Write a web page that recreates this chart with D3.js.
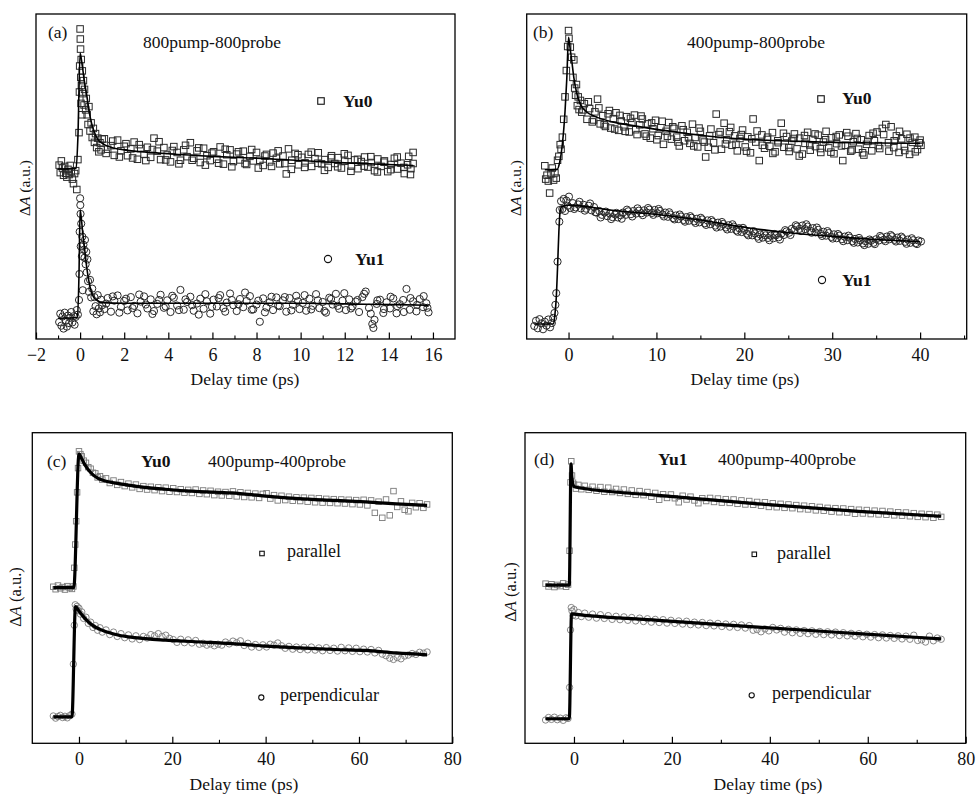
<!DOCTYPE html>
<html>
<head>
<meta charset="utf-8">
<script src="https://cdn.jsdelivr.net/npm/d3@7"></script>
<style>
  body { margin: 0; background: #fff; }
</style>
</head>
<body>
<svg width="976" height="795"></svg>
<script>
// ---- data (y in arbitrary units 0..100 of each frame) ----
// (a) 800pump-800probe
const aYu0 = [[-0.95,53.5],[-0.9,51.2],[-0.85,54.8],[-0.8,52.6],[-0.75,50.4],[-0.7,53.1],[-0.65,51.0],[-0.6,49.8],[-0.55,52.2],[-0.5,50.6],[-0.45,53.4],[-0.4,51.5],[-0.35,49.2],[-0.3,47.8],[-0.25,50.9],[-0.2,51.8],[-0.15,46.0],[-0.1,55.2],[-0.05,63.5],
  [0,95.4],[0.01,92.3],[0.02,89.2],[-0.02,84],[0.03,80.5],[-0.03,76],[0.04,72.5],[0.05,86],[0.06,78],[0.08,69],[0.1,82.5],[0.12,75.5],[0.15,79.5],[0.18,72],[0.2,76.8],[0.25,70.5],[0.28,74],[0.32,69],[0.36,66],[0.4,71.5],[0.45,64],[0.5,66.5],[0.55,62],[0.6,64.8],[0.65,60.5],[0.7,63.2],[0.75,58.9],[0.8,61.8],[0.85,57.6],[0.9,60.4],[0.95,58.2],[1.0,61.5],
  [1.1,61.6],[1.25,58.4],[1.4,59.5],[1.55,56.5],[1.7,61.2],[1.85,57.9],[2.0,59.3],[2.15,56.4],[2.3,58.5],[2.45,60.6],[2.6,55.3],[2.75,58.6],[2.9,56.8],[3.05,59.0],[3.2,55.9],[3.35,61.8],[3.5,57.8],[3.65,55.2],[3.8,58.9],[3.95,56.6],
  [4.1,54.5],[4.25,59.2],[4.4,57.4],[4.55,55.0],[4.7,58.2],[4.85,56.1],[5.0,60.4],[5.15,55.6],[5.3,57.9],[5.45,54.3],[5.6,58.7],[5.75,56.4],[5.9,54.9],[6.05,57.6],[6.2,55.3],[6.35,59.1],[6.5,53.8],[6.65,56.7],[6.8,58.2],[6.95,54.6],
  [7.1,56.9],[7.25,55.1],[7.4,57.8],[7.55,53.7],[7.7,56.2],[7.85,54.8],[8.0,57.4],[8.15,55.0],[8.3,53.4],[8.45,56.8],[8.6,54.5],[8.75,57.2],[8.9,55.6],[9.05,53.9],[9.2,56.3],[9.35,50.8],[9.45,58.5],[9.6,55.0],[9.75,57.1],[9.9,53.6],
  [10.05,55.9],[10.2,54.2],[10.35,56.8],[10.5,53.1],[10.65,55.5],[10.8,57.3],[10.95,53.9],[11.1,55.2],[11.25,52.8],[11.4,56.4],[11.55,54.0],[11.7,55.8],[11.85,52.6],[12.0,54.7],[12.15,56.5],[12.3,53.2],[12.45,55.1],[12.6,52.4],[12.75,54.6],[12.9,56.0],
  [13.05,52.9],[13.2,54.3],[13.35,51.8],[13.5,55.4],[13.65,53.1],[13.8,54.8],[13.95,51.5],[14.1,53.7],[14.25,55.6],[14.4,52.3],[14.55,54.1],[14.7,50.9],[14.85,53.6],[14.9,56.2],[15.0,52.4],[15.1,57.4],[15.1,54.0]];
const aYu0b = [[1.18,57.1],[1.48,60.9],[1.78,56.0],[2.08,60.1],[2.38,55.7],[2.68,59.8],[2.98,54.9],[3.28,58.3],[3.58,60.7],[3.88,55.1],[4.18,58.0],[4.48,53.9],[4.78,59.6],[5.08,55.0],[5.38,58.8],[5.68,53.5],[5.98,57.2],[6.28,54.1],[6.58,58.4],[6.88,53.0],
  [7.18,57.6],[7.48,54.0],[7.78,58.3],[8.08,52.6],[8.38,56.3],[8.68,53.1],[8.98,57.9],[9.28,54.0],[9.58,52.2],[9.88,56.7],[10.18,52.8],[10.48,57.5],[10.78,54.1],[11.08,51.9],[11.38,55.8],[11.68,53.0],[11.98,57.0],[12.28,51.6],[12.58,55.3],[12.88,53.2],
  [13.18,56.1],[13.48,51.4],[13.78,54.4],[14.08,52.1],[14.38,56.0],[14.68,52.8],[14.98,50.6]];
const aYu1 = [[-0.95,5.2],[-0.9,7.8],[-0.85,4.1],[-0.8,6.9],[-0.75,3.2],[-0.7,8.1],[-0.65,5.6],[-0.6,3.8],[-0.55,7.2],[-0.5,4.9],[-0.45,6.5],[-0.4,8.3],[-0.35,5.1],[-0.3,7.0],[-0.25,4.4],[-0.2,6.8],[-0.15,8.9],[-0.1,7.5],[-0.05,12.0],
  [0,43.3],[0.01,41.2],[0.02,38.5],[-0.02,33.0],[0.03,28.5],[-0.03,20.0],[0.05,35.5],[0.08,25.5],[0.1,31.5],[0.12,15.0],[0.15,29.0],[0.18,27.5],[0.2,25.0],[0.22,30.5],[0.25,23.0],[0.28,26.8],[0.3,20.5],[0.33,24.5],[0.36,17.8],[0.4,14.5],[0.45,18.2],[0.5,12.8],[0.55,15.5],[0.6,8.5],[0.65,12.9],[0.7,10.1],[0.75,7.6],[0.8,13.5],[0.85,9.4],[0.9,8.2],[0.95,12.1],[1.0,10.4],
  [1.1,9.2],[1.25,12.6],[1.4,8.4],[1.55,11.8],[1.7,13.4],[1.85,9.9],[2.0,11.7],[2.15,8.8],[2.3,12.9],[2.45,10.2],[2.6,7.9],[2.75,11.5],[2.9,13.1],[3.05,9.4],[3.2,12.2],[3.35,8.6],[3.5,10.8],[3.65,13.6],[3.8,9.6],[3.95,11.9],
  [4.1,8.3],[4.25,12.7],[4.4,10.3],[4.55,15.1],[4.7,9.0],[4.85,11.4],[5.0,13.0],[5.15,8.7],[5.3,10.9],[5.45,12.4],[5.6,9.3],[5.75,11.6],[5.9,7.8],[6.05,12.1],[6.2,10.0],[6.35,13.5],[6.5,9.5],[6.65,11.2],[6.8,14.0],[6.95,10.4],
  [7.1,8.6],[7.25,12.3],[7.4,9.8],[7.55,11.7],[7.7,13.2],[7.85,9.1],[8.0,10.6],[8.15,5.3],[8.3,12.5],[8.45,9.7],[8.6,11.3],[8.75,8.9],[8.9,12.8],[9.05,10.1],[9.2,11.9],[9.35,8.4],[9.5,12.6],[9.65,10.5],[9.8,13.3],[9.95,9.2],
  [10.1,11.1],[10.25,8.7],[10.4,12.4],[10.55,10.2],[10.7,13.8],[10.85,9.5],[11.0,11.4],[11.15,8.1],[11.3,12.7],[11.45,10.6],[11.6,13.9],[11.75,9.3],[11.9,11.8],[12.05,8.9],[12.2,12.2],[12.35,10.0],[12.5,11.5],[12.65,8.3],[12.8,12.9],[12.95,14.6],
  [13.1,9.6],[13.25,4.6],[13.3,3.4],[13.35,5.9],[13.45,10.8],[13.6,12.1],[13.75,8.0],[13.9,11.3],[14.05,9.4],[14.2,12.5],[14.35,7.9],[14.5,10.7],[14.65,12.0],[14.8,15.4],[14.95,9.0],[15.1,11.6],[15.25,8.5],[15.4,12.3],[15.55,9.8],[15.7,11.0],[15.8,8.2]];
const aYu1b = [[1.18,10.9],[1.48,13.1],[1.78,8.1],[2.08,12.4],[2.38,9.5],[2.68,13.7],[2.98,10.6],[3.28,7.7],[3.58,12.0],[3.88,10.0],[4.18,13.3],[4.48,8.9],[4.78,12.2],[5.08,10.4],[5.38,7.5],[5.68,13.8],[5.98,9.9],[6.28,12.6],[6.58,8.4],[6.88,12.0],
  [7.18,10.7],[7.48,14.3],[7.78,9.0],[8.08,11.8],[8.38,8.2],[8.68,13.0],[8.98,10.3],[9.28,12.9],[9.58,8.8],[9.88,11.6],[10.18,13.5],[10.48,9.1],[10.78,11.9],[11.08,8.6],[11.38,12.3],[11.68,10.2],[11.98,14.1],[12.28,9.4],[12.58,12.0],[12.88,13.9],
  [13.18,7.8],[13.48,11.9],[13.78,9.2],[14.08,13.0],[14.38,10.1],[14.68,8.3],[14.98,12.6],[15.28,10.5],[15.58,13.2],[15.75,9.6]];
const aFit0 = [[-1,52.3],[-0.18,52.5],[-0.1,62],[0,88],[0.1,84],[0.2,79],[0.3,75],[0.45,68.5],[0.6,64.5],[0.8,61.5],[1.1,59.8],[1.5,58.8],[2,58.2],[3,57.5],[4,57],[6,56.2],[8,55.6],[10,54.9],[12,54.2],[15.1,53.4]];
const aFit1 = [[-1,6.4],[-0.12,6.6],[-0.05,20],[0,39.7],[0.05,37.5],[0.1,34],[0.2,28],[0.3,22],[0.45,16],[0.6,13],[0.75,12],[1,11.2],[2,11],[6,11],[10,11],[13,10.7],[15.8,10.4]];

// (b) 400pump-800probe
const bYu0 = [[-2.7,53.3],[-2.6,49.2],[-2.45,50.4],[-2.3,48.6],[-2.15,44.9],[-2.0,50.8],[-1.85,52.6],[-1.7,48.9],[-1.55,51.1],[-1.4,49.5],[-1.25,55.0],
  [-1.1,56.2],[-0.95,59.8],[-0.85,58.4],[-0.7,62.1],[-0.55,67.6],[-0.4,74.5],[-0.25,82.6],[-0.1,90.0],[0,94.9],[0.05,92.5],
  [0.2,89.8],[0.35,86.7],[0.5,80.5],[0.6,85.9],[0.7,77.2],[0.8,75.0],[0.9,78.3],[1.0,71.8],[1.1,74.5],[1.2,70.6],[1.35,73.4],
  [1.5,69.8],[1.8,72.4],[2.1,67.6],[2.4,70.9],[2.7,66.8],[3.0,69.9],[3.3,73.8],[3.6,66.2],[3.9,68.7],[4.2,65.4],[4.5,69.3],[4.8,64.9],[5.1,67.8],[5.4,69.6],[5.7,64.2],[6.0,67.1],[6.3,65.3],[6.6,68.4],[6.9,63.7],[7.2,66.5],
  [7.5,68.9],[7.8,62.9],[8.1,65.9],[8.4,67.7],[8.7,63.1],[9.0,66.2],[9.3,61.8],[9.6,64.7],[9.9,67.3],[10.2,62.6],[10.5,65.0],[10.8,59.9],[11.1,63.9],[11.4,66.6],[11.7,61.5],[12.0,64.8],[12.3,62.1],[12.6,59.4],[12.9,65.6],[13.2,61.0],
  [13.5,63.6],[13.8,60.2],[14.1,66.1],[14.4,62.0],[14.7,59.1],[15.0,63.9],[15.3,61.2],[15.6,56.0],[15.9,59.0],[16.2,64.6],[16.5,60.4],[16.8,69.2],[17.1,62.9],[17.4,58.4],[17.7,66.4],[18.0,61.3],[18.3,63.8],[18.6,59.6],[18.9,62.5],[19.2,57.9],
  [19.5,61.7],[19.8,64.3],[20.1,59.1],[20.4,62.2],[20.7,57.3],[21.0,67.7],[21.3,60.6],[21.7,54.9],[22.0,62.8],[22.3,58.7],[22.6,61.4],[22.9,59.3],[23.2,63.5],[23.5,57.6],[23.8,61.0],[24.2,66.4],[24.5,59.0],[24.8,62.3],[25.1,57.7],[25.4,60.9],
  [25.7,63.1],[26.0,58.5],[26.3,61.8],[26.6,56.9],[26.9,60.2],[27.2,63.6],[27.5,58.1],[27.8,61.4],[28.1,59.2],[28.4,62.7],[28.7,57.4],[29.0,60.6],[29.3,63.9],[29.6,58.8],[29.9,61.9],[30.2,57.0],[30.5,60.1],[30.8,62.8],[31.2,54.9],[31.5,59.6],
  [31.8,62.4],[32.1,57.8],[32.4,60.7],[32.7,63.2],[33.0,58.4],[33.3,61.3],[33.6,56.6],[33.9,59.9],[34.2,62.6],[34.5,57.9],[34.8,61.0],[35.1,63.7],[35.4,58.6],[35.7,64.8],[36.1,66.0],[36.4,60.4],[36.7,65.3],[37.0,58.9],[37.3,62.5],[37.6,57.4],
  [37.9,61.6],[38.2,59.2],[38.5,63.0],[38.8,56.8],[39.1,60.5],[39.4,62.1],[39.7,58.3],[40.0,61.2],[40.1,59.6]];
const bYu0b = [[1.65,70.5],[2.25,73.0],[2.85,67.4],[3.45,71.1],[4.05,65.9],[4.65,70.3],[5.25,64.6],[5.85,68.8],[6.45,63.9],[7.05,67.9],[7.65,64.4],[8.25,68.6],[8.85,62.4],[9.45,66.5],[10.05,61.3],[10.65,67.0],[11.25,62.4],[11.85,65.3],[12.45,60.6],[13.05,64.4],
  [13.65,61.9],[14.25,59.4],[14.85,64.9],[15.45,60.6],[16.05,62.5],[16.65,58.2],[17.25,63.7],[17.85,60.0],[18.45,65.1],[19.05,59.9],[19.65,62.9],[20.25,57.8],[20.85,61.6],[21.45,64.0],[22.05,59.6],[22.65,62.1],[23.25,57.1],[23.85,60.4],[24.45,63.3],[25.05,58.9],
  [25.65,61.7],[26.25,56.3],[26.85,62.6],[27.45,59.7],[28.05,63.1],[28.65,58.6],[29.25,61.3],[29.85,57.5],[30.45,62.3],[31.05,59.4],[31.65,63.5],[32.25,58.2],[32.85,61.7],[33.45,57.3],[34.05,60.8],[34.65,63.3],[35.25,59.5],[35.85,62.9],[36.45,57.8],[37.05,61.0],
  [37.65,63.9],[38.25,58.0],[38.85,61.8],[39.45,57.6],[39.9,60.4]];
const bYu1 = [[-3.9,4.0],[-3.7,5.6],[-3.5,3.3],[-3.3,6.1],[-3.1,4.8],[-2.9,3.0],[-2.7,5.3],[-2.5,4.1],[-2.3,6.0],[-2.1,3.6],[-1.9,4.9],[-1.75,6.5],
  [-1.6,8.0],[-1.5,10.5],[-1.4,14.1],[-1.25,23.8],[-1.05,36.1],[-1.0,39.7],[-0.85,42.4],[-0.7,40.0],[-0.55,43.1],[-0.4,39.4],[-0.25,42.6],[-0.1,41.0],[0.05,43.8],[0.2,40.3],
  [0.5,41.8],[0.8,40.5],[1.1,41.4],[1.4,40.2],[1.7,41.3],[2.0,40.1],[2.3,41.0],[2.6,39.6],[2.9,40.6],[3.2,38.9],[3.5,39.4],[3.8,38.2],[4.1,38.9],[4.4,37.8],[4.7,38.6],[5.0,37.5],[5.3,38.3],[5.6,37.4],[5.9,38.1],[6.2,38.9],
  [6.5,38.2],[6.8,39.3],[7.1,38.4],[7.4,39.4],[7.7,38.6],[8.0,39.5],[8.3,38.7],[8.6,39.6],[8.9,38.9],[9.2,39.8],[9.5,38.8],[9.8,39.7],[10.1,38.7],[10.4,39.4],[10.7,38.3],[11.0,38.9],[11.3,37.6],[11.6,38.3],[11.9,37.2],[12.2,38.0],
  [12.5,36.9],[12.8,37.7],[13.1,36.6],[13.4,37.5],[13.7,36.4],[14.0,37.3],[14.3,36.2],[14.6,37.0],[14.9,35.9],[15.2,36.8],[15.5,35.6],[15.8,36.5],[16.1,35.3],[16.4,36.1],[16.7,34.9],[17.0,35.8],[17.3,34.6],[17.6,35.4],[17.9,34.3],[18.2,35.0],
  [18.5,33.9],[18.8,34.6],[19.1,33.4],[19.4,34.1],[19.7,32.9],[20.0,33.6],[20.3,32.4],[20.6,33.0],[20.9,31.9],[21.2,32.5],[21.5,31.5],[21.8,32.2],[22.1,31.2],[22.4,31.9],[22.7,31.1],[23.0,31.8],[23.3,31.0],[23.6,31.9],[23.9,31.3],[24.2,32.4],
  [24.5,32.0],[24.8,33.1],[25.1,32.7],[25.4,33.9],[25.7,33.5],[26.0,34.6],[26.3,33.9],[26.6,34.9],[26.9,33.8],[27.2,34.6],[27.5,33.3],[27.8,34.1],[28.1,32.8],[28.4,33.6],[28.7,32.3],[29.0,33.0],[29.3,31.8],[29.6,32.6],[29.9,31.4],[30.2,32.2],
  [30.5,31.0],[30.8,31.8],[31.1,30.7],[31.4,31.5],[31.7,30.4],[32.0,31.2],[32.3,30.1],[32.6,30.8],[32.9,29.7],[33.2,30.4],[33.5,29.4],[33.8,30.1],[34.1,29.3],[34.4,30.2],[34.7,29.6],[35.0,30.7],[35.3,30.3],[35.6,31.3],[35.9,30.6],[36.2,31.5],
  [36.5,30.7],[36.8,31.6],[37.1,30.5],[37.4,31.2],[37.7,30.2],[38.0,31.0],[38.3,29.9],[38.6,30.6],[38.9,29.6],[39.2,30.4],[39.5,29.5],[39.8,30.3],[40.1,30.0]];
const bYu1b = [[0.65,40.0],[1.25,42.2],[1.85,39.5],[2.45,41.7],[3.05,39.0],[3.65,37.4],[4.25,39.2],[4.85,36.9],[5.45,38.8],[6.05,37.0],[6.65,39.8],[7.25,37.7],[7.85,40.2],[8.45,38.1],[9.05,40.3],[9.65,38.2],[10.25,40.0],[10.85,37.7],[11.45,39.0],[12.05,36.8],
  [12.65,38.3],[13.25,36.1],[13.85,37.8],[14.45,35.7],[15.05,37.3],[15.65,35.1],[16.25,36.6],[16.85,34.3],[17.45,36.0],[18.05,33.7],[18.65,35.3],[19.25,33.0],[19.85,34.2],[20.45,31.9],[21.05,33.2],[21.65,30.8],[22.25,32.5],[22.85,30.4],[23.45,32.3],[24.05,30.6],
  [24.65,33.5],[25.25,32.0],[25.85,35.0],[26.45,33.2],[27.05,35.3],[27.65,32.7],[28.25,34.3],[28.85,31.7],[29.45,33.2],[30.05,30.9],[30.65,32.3],[31.25,30.1],[31.85,31.8],[32.45,29.6],[33.05,31.1],[33.65,28.9],[34.25,30.6],[34.85,29.2],[35.45,31.7],[36.05,30.1],
  [36.65,32.0],[37.25,30.0],[37.85,31.5],[38.45,29.3],[39.05,31.0],[39.65,29.2]];
const bFit0 = [[-2.7,52.1],[-1.3,52.2],[-1.0,54.5],[-0.7,60],[-0.4,70],[-0.2,80],[0,92.8],[0.15,90],[0.35,86],[0.6,80.5],[0.9,76],[1.3,72.5],[2,70],[3,68.5],[5,66.8],[7,65.8],[10,64.5],[13,63.4],[16,62.4],[20,61.5],[25,60.9],[30,60.5],[35,60.3],[40,60.2]];
const bFit1 = [[-3.9,4.6],[-1.7,4.7],[-1.55,7.5],[-1.4,12.5],[-1.25,22],[-1.1,33],[-0.95,39.5],[-0.8,40.7],[0,41.2],[5,39.6],[10,38.3],[15,36.6],[20,34.4],[25,32.7],[30,31.6],[35,30.6],[40,29.9]];

// (c) Yu0 400pump-400probe
const tC = [-5.5,-5,-4.5,-4,-3.5,-3,-2.5,-2,-1.5,-1.2,
  -1,-0.8,-0.6,-0.4,-0.2,0,0.3,0.6,1,1.5,
  2,2.5,3,3.5,4,4.5,5,5.8,6.6,7.4,
  8.2,9,9.8,10.6,11.4,12.2,13,13.8,14.6,15.4,
  16.2,17,17.8,18.6,19.4,20.2,21,21.8,22.6,23.4,
  24.2,25,25.8,26.6,27.4,28.2,29,29.8,30.6,31.4,
  32.2,33,33.8,34.6,35.4,36.2,37,37.8,38.6,39.4,
  40.2,41,41.8,42.6,43.4,44.2,45,45.8,46.6,47.4,
  48.2,49,49.8,50.6,51.4,52.2,53,53.8,54.6,55.4,
  56.2,57,57.8,58.6,59.4,60.2,61,61.8,62.6,63.4,
  64.2,65,65.8,66.6,67.4,68.2,69,69.8,70.6,71.4,
  72.2,73,73.8,74.6];
const cPar = [50.4,49.6,50.8,49.9,50.3,49.5,50.6,50.0,49.7,50.5,
  56.5,64.0,71.5,80.8,88.6,94.0,93.1,92.4,91.0,90.3,
  88.9,88.4,87.1,86.9,85.6,86.0,84.9,85.3,83.8,84.6,
  83.2,84.1,82.8,83.6,82.4,83.3,81.9,82.8,81.7,82.6,
  81.5,82.4,81.2,82.3,81.0,82.1,80.9,81.8,80.7,81.6,
  80.6,81.7,80.3,81.4,80.2,81.3,79.9,81.0,79.8,80.9,
  79.7,81.1,79.5,80.8,79.3,80.6,79.2,80.4,79.0,80.3,
  80.5,78.8,79.9,78.2,79.7,78.3,79.4,78.1,79.2,78.0,
  79.1,77.8,79.0,77.6,78.9,77.5,78.7,77.4,78.6,77.3,
  78.5,77.2,78.4,77.0,78.3,76.9,78.4,76.6,78.2,74.2,
  77.8,72.6,78.5,73.4,81.2,76.1,77.9,75.2,74.7,77.4,
  76.0,77.3,75.8,76.9];
const cPerp = [8.8,8.1,8.6,9.0,8.3,8.7,8.2,8.9,9.4,25.5,
  38.0,44.6,43.2,44.1,42.7,43.5,41.6,42.3,40.2,40.6,
  38.6,39.0,37.3,37.9,36.4,37.2,35.8,36.5,35.0,35.8,
  34.4,35.3,34.0,34.9,33.6,34.6,33.4,34.4,33.9,35.0,
  34.6,35.3,34.4,34.8,33.8,33.4,32.5,33.5,32.4,33.3,
  32.3,33.1,31.9,32.2,31.6,32.0,31.4,31.9,31.6,32.6,
  32.0,32.9,32.4,33.0,31.5,32.2,31.0,31.8,30.9,31.7,
  31.0,31.9,31.6,32.3,31.4,30.6,31.2,30.3,31.0,30.2,
  30.9,30.1,31.0,30.0,30.7,29.8,30.8,29.9,30.6,29.7,
  30.9,29.8,30.7,29.6,30.6,29.5,30.3,29.4,30.2,29.1,
  29.9,28.7,28.2,27.4,27.0,27.6,27.2,28.1,28.4,28.9,
  28.6,29.3,29.0,29.4];
const cFitPar = [[-5.5,50.1],[-1.1,50.1],[0,93.2],[0.6,91.6],[1.35,89.5],[2.5,87.2],[4.2,85.2],[6,84.3],[8.5,83.6],[12,82.8],[18.5,81.8],[25,81.1],[32.8,80.6],[40,79.6],[47.1,78.8],[55,78.2],[61.4,77.7],[68,77.1],[74.6,76.6]];
const cFitPerp = [[-5.5,8.5],[-1.5,8.5],[-0.75,44],[0,42.6],[1,40.7],[2,39.1],[3,37.9],[4.2,36.9],[6,35.8],[8.5,34.8],[12,34.0],[18.5,33.2],[25,32.7],[32.8,32.1],[40,31.3],[47.1,30.7],[55,30.2],[61.4,29.9],[68,29.1],[74.6,28.5]];

// (d) Yu1 400pump-400probe
const tD = [-5.8,-5.2,-4.6,-4,-3.4,-2.8,-2.2,-1.6,-1.2,-0.9,
  -0.7,-0.55,-0.4,-0.2,0,0.4,0.9,1.5,2.2,3,
  3.8,4.6,5.4,6.2,7,7.8,8.6,9.4,10.2,11,
  11.8,12.6,13.4,14.2,15,15.8,16.6,17.4,18.2,19,
  19.8,20.6,21.4,22.2,23,23.8,24.6,25.4,26.2,27,
  27.8,28.6,29.4,30.2,31,31.8,32.6,33.4,34.2,35,
  35.8,36.6,37.4,38.2,39,39.8,40.6,41.4,42.2,43,
  43.8,44.6,45.4,46.2,47,47.8,48.6,49.4,50.2,51,
  51.8,52.6,53.4,54.2,55,55.8,56.6,57.4,58.2,59,
  59.8,60.6,61.4,62.2,63,63.8,64.6,65.4,66.2,67,
  67.8,68.6,69.4,70.2,71,71.8,72.6,73.4,74.2,75];
const dPar = [51.4,50.5,51.2,50.3,51.0,50.6,51.5,50.4,51.1,62.0,
  84.0,90.8,86.2,83.9,83.3,82.0,83.2,81.8,82.9,81.6,
  82.6,81.3,82.5,81.0,82.3,80.9,81.9,80.6,81.7,80.3,
  81.4,80.0,81.2,79.9,80.9,79.4,80.6,78.4,80.2,79.0,
  80.1,78.9,77.6,79.7,78.5,79.4,78.2,77.3,78.9,78.0,
  79.0,77.7,78.8,77.5,78.6,77.4,78.5,77.1,78.2,76.9,
  78.0,76.8,77.7,76.5,77.6,76.1,77.3,76.0,77.1,75.8,
  76.9,75.7,76.7,75.4,76.5,75.3,76.3,75.0,76.1,74.9,
  75.8,74.6,75.7,74.4,75.6,74.3,75.4,73.9,75.2,74.0,
  75.1,73.8,74.9,73.7,74.8,73.6,74.6,73.4,74.4,73.3,
  74.3,73.1,74.1,72.9,73.9,72.8,73.8,72.6,73.6,72.9];
const dPerp = [7.5,8.3,7.7,8.4,7.6,8.1,7.4,8.2,8.0,18.0,
  36.5,43.7,42.6,41.2,43.1,41.0,42.1,40.8,41.9,40.6,
  41.6,40.3,41.4,40.2,41.1,39.9,40.9,39.8,40.7,39.6,
  40.5,39.4,40.3,39.2,40.1,39.0,39.9,38.9,39.8,38.7,
  39.6,38.6,39.4,38.4,39.3,38.2,39.0,38.1,38.9,37.9,
  38.7,37.8,38.6,37.6,38.4,37.4,38.3,37.3,38.1,37.1,
  37.9,36.4,36.6,35.9,36.8,36.2,37.3,36.5,37.0,35.8,
  36.7,35.6,36.5,35.4,36.3,35.3,36.2,35.1,36.0,35.0,
  35.9,34.9,35.8,34.7,35.6,34.6,35.4,34.5,35.3,34.3,
  35.1,34.2,35.0,34.0,34.9,33.9,34.7,33.8,34.6,33.6,
  34.5,33.5,34.8,33.1,33.3,32.6,34.5,33.0,33.9,33.5];
const dFitPar = [[-5.8,50.9],[-0.95,50.9],[-0.6,90],[-0.45,86],[-0.15,83.1],[0.2,82.5],[17.2,79.8],[37.6,77.1],[58.1,74.7],[75,73.1]];
const dFitPerp = [[-5.8,7.9],[-0.95,7.9],[-0.5,41.7],[0,41.6],[17.2,39.6],[37.6,37.4],[58.1,35.3],[75,33.6]];

// tick values
const ticksA = [-2,0,2,4,6,8,10,12,14,16], minorA = [-1,1,3,5,7,9,11,13,15,17];
const ticksB = [0,10,20,30,40], minorB = [5,15,25,35,45];
const ticksCD = [0,20,40,60,80], minorCD = [10,30,50,70];

// ---- layout ----
const svg = d3.select('svg');
svg.append('rect').attr('width', 976).attr('height', 795).attr('fill', '#fff');
const FONT = '"Liberation Serif", "Times New Roman", Tinos, serif';

const panels = [
  { left: 36, right: 455, top: 14, bottom: 339, xdom: [-2, 17], ticks: ticksA, minor: minorA,
    ylab: [30, 188, 15.5], xlab: [245, 385],
    series: [{ data: aYu0.concat(aYu0b), shape: 'sq', size: 6.5, color: '#2a2a2a', sw: 1 }, { data: aYu1.concat(aYu1b), shape: 'ci', size: 3.6, color: '#2a2a2a', sw: 1 }],
    fits: [aFit0, aFit1], fitW: 1.6,
    texts: [['(a)', 48, 38, 'normal'], ['800pump-800probe', 143, 48, 'normal'], ['Yu0', 343, 107, 'bold'], ['Yu1', 355, 265, 'bold']],
    legend: [['sq', 321, 101, 6.5], ['ci', 328, 259, 3.6]] },
  { left: 526.7, right: 966.7, top: 14, bottom: 339, xdom: [-4.76, 45.3], ticks: ticksB, minor: minorB,
    ylab: [521, 188, 15.5], xlab: [745, 385],
    series: [{ data: bYu0.concat(bYu0b), shape: 'sq', size: 6.5, color: '#2a2a2a', sw: 1 }, { data: bYu1.concat(bYu1b), shape: 'ci', size: 3.6, color: '#2a2a2a', sw: 1 }],
    fits: [bFit0, bFit1], fitW: 1.6,
    texts: [['(b)', 533, 38, 'normal'], ['400pump-800probe', 687, 48, 'normal'], ['Yu0', 842, 104, 'bold'], ['Yu1', 842, 286, 'bold']],
    legend: [['sq', 821, 99, 6.5], ['ci', 822, 280, 3.6]] },
  { left: 32.3, right: 452.3, top: 432.7, bottom: 743.3, xdom: [-10, 80], ticks: ticksCD, minor: minorCD,
    ylab: [21, 597, 16.5], xlab: [244, 790],
    series: [{ data: d3.zip(tC, cPar), shape: 'sq', size: 5.5, color: '#7a7a7a', sw: 0.9 }, { data: d3.zip(tC, cPerp), shape: 'ci', size: 3.2, color: '#7a7a7a', sw: 0.9 }],
    fits: [cFitPar, cFitPerp], fitW: 3.2,
    texts: [['(c)', 47, 467, 'normal'], ['Yu0', 141, 467, 'bold'], ['400pump-400probe', 208, 467, 'normal'], ['parallel', 287, 557, 'normal', 18], ['perpendicular', 280, 701, 'normal', 18]],
    legend: [['sq', 262, 553.5, 4.5], ['ci', 261.3, 697.5, 2.6]] },
  { left: 525, right: 965.7, top: 432.7, bottom: 743.3, xdom: [-10, 80], ticks: ticksCD, minor: minorCD,
    ylab: [516, 592, 16.5], xlab: [768, 790],
    series: [{ data: d3.zip(tD, dPar), shape: 'sq', size: 5.5, color: '#7a7a7a', sw: 0.9 }, { data: d3.zip(tD, dPerp), shape: 'ci', size: 3.2, color: '#7a7a7a', sw: 0.9 }],
    fits: [dFitPar, dFitPerp], fitW: 3.2,
    texts: [['(d)', 534, 465, 'normal'], ['Yu1', 658, 465, 'bold'], ['400pump-400probe', 718, 465, 'normal'], ['parallel', 777, 558.5, 'normal', 18], ['perpendicular', 772, 698.5, 'normal', 18]],
    legend: [['sq', 754.3, 554.3, 4.5], ['ci', 751.7, 695.3, 2.6]] }
];

const drawMarker = (g, shape, x, y, s, color, sw) => {
  if (shape === 'sq') {
    g.append('rect').attr('x', x - s / 2).attr('y', y - s / 2).attr('width', s).attr('height', s)
      .attr('fill', 'none').attr('stroke', color).attr('stroke-width', sw);
  } else {
    g.append('circle').attr('cx', x).attr('cy', y).attr('r', s)
      .attr('fill', 'none').attr('stroke', color).attr('stroke-width', sw);
  }
};

panels.forEach(p => {
  const xScale = d3.scaleLinear().domain(p.xdom).range([p.left, p.right]);
  const yScale = d3.scaleLinear().domain([0, 100]).range([p.bottom, p.top]);
  const g = svg.append('g');

  // scatter
  p.series.forEach(s => {
    const sg = g.append('g');
    s.data.forEach(d => drawMarker(sg, s.shape, xScale(d[0]), yScale(d[1]), s.size, s.color, s.sw));
  });

  // fits
  const line = d3.line().x(d => xScale(d[0])).y(d => yScale(d[1])).curve(d3.curveMonotoneX);
  p.fits.forEach(f => {
    g.append('path').attr('d', line(f)).attr('fill', 'none').attr('stroke', '#000')
      .attr('stroke-width', p.fitW).attr('stroke-linejoin', 'round');
  });

  // axes (ticks inward)
  const xAxis = d3.axisBottom(xScale).tickValues(p.ticks).tickSize(-6.5).tickPadding(9);
  const ax = g.append('g').attr('transform', `translate(0,${p.bottom})`).call(xAxis);
  ax.select('.domain').remove();
  ax.selectAll('line').attr('stroke', '#000').attr('stroke-width', 1.2);
  ax.selectAll('text').style('font-family', FONT).style('font-size', '18px').attr('fill', '#111');
  const mAxis = d3.axisBottom(xScale).tickValues(p.minor.filter(v => xScale(v) < p.right - 1)).tickSize(-3.5).tickFormat('');
  const mx = g.append('g').attr('transform', `translate(0,${p.bottom})`).call(mAxis);
  mx.select('.domain').remove();
  mx.selectAll('line').attr('stroke', '#000').attr('stroke-width', 1.1);

  // frame
  g.append('rect').attr('x', p.left).attr('y', p.top).attr('width', p.right - p.left).attr('height', p.bottom - p.top)
    .attr('fill', 'none').attr('stroke', '#000').attr('stroke-width', 1.3);

  // axis titles
  g.append('text').attr('x', p.xlab[0]).attr('y', p.xlab[1]).attr('text-anchor', 'middle')
    .style('font-family', FONT).style('font-size', '17.5px').attr('fill', '#111').text('Delay time (ps)');
  const yl = g.append('text').attr('transform', `translate(${p.ylab[0]},${p.ylab[1]}) rotate(-90)`)
    .attr('text-anchor', 'middle').style('font-family', FONT).style('font-size', p.ylab[2] + 'px').attr('fill', '#111');
  yl.append('tspan').text('Δ');
  yl.append('tspan').style('font-style', 'italic').text('A');
  yl.append('tspan').text(' (a.u.)');

  // labels
  p.texts.forEach(t => {
    g.append('text').attr('x', t[1]).attr('y', t[2]).style('font-family', FONT)
      .style('font-size', (t[4] || 17.5) + 'px').style('font-weight', t[3]).attr('fill', '#111').text(t[0]);
  });
  p.legend.forEach(l => drawMarker(g, l[0], l[1], l[2], l[3], '#111', 1.1));
});
</script>
</body>
</html>
